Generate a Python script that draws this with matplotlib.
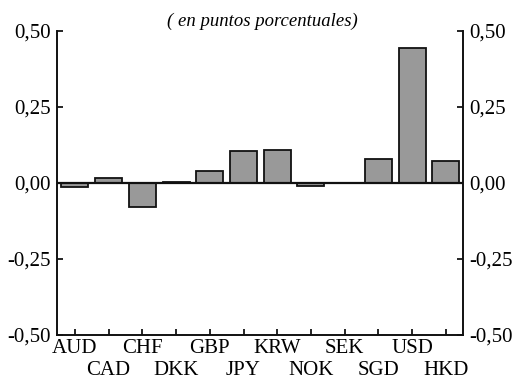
import matplotlib
matplotlib.use("Agg")
import matplotlib.pyplot as plt
import numpy as np

currencies = ["AUD", "CAD", "CHF", "DKK", "GBP", "JPY", "KRW", "NOK", "SEK", "SGD", "USD", "HKD"]
values = [-0.014, 0.017, -0.079, 0.003, 0.038, 0.104, 0.108, -0.009, -0.002, 0.078, 0.442, 0.070]
y_ticks = [-0.50, -0.25, 0.00, 0.25, 0.50]
y_tick_labels = ["-0,50", "-0,25", "0,00", "0,25", "0,50"]
subtitle = "( en puntos porcentuales)"

plt.rcParams["font.family"] = ["Liberation Serif", "DejaVu Serif"]

fig = plt.figure(figsize=(5.17, 3.82), dpi=100)
ax = fig.add_axes([0.111, 0.123, 0.784, 0.797])

x = np.arange(len(currencies))
ax.bar(x, values, width=0.8, color="#999999", edgecolor="#111111", linewidth=1.3, zorder=2)
ax.axhline(0, color="#111111", linewidth=1.6, zorder=3)

ax.set_xlim(-0.52, len(currencies) - 0.5)
ax.set_ylim(-0.5, 0.5)

ax.set_yticks(y_ticks)
ax.set_yticklabels(y_tick_labels)

# Alternate currency labels over two rows: even positions on major ticks,
# odd positions on minor ticks with a larger pad.
ax.set_xticks(x[::2])
ax.set_xticklabels(currencies[::2])
ax.set_xticks(x[1::2], minor=True)
ax.set_xticklabels(currencies[1::2], minor=True)

ax.tick_params(axis="y", direction="in", length=4, width=1.2, labelsize=15,
               left=True, right=True, labelleft=True, labelright=True, pad=5)
ax.tick_params(axis="x", which="major", direction="in", length=4, width=1.2,
               labelsize=15, pad=3)
ax.tick_params(axis="x", which="minor", direction="in", length=4, width=1.2,
               labelsize=15, pad=19)

for side in ["left", "right", "bottom"]:
    ax.spines[side].set_linewidth(1.4)
    ax.spines[side].set_color("#111111")
ax.spines["top"].set_visible(False)

fig.text(0.507, 0.944, subtitle, ha="center", va="center", fontsize=13.5, style="italic")

fig.savefig("out.png", dpi=100)
